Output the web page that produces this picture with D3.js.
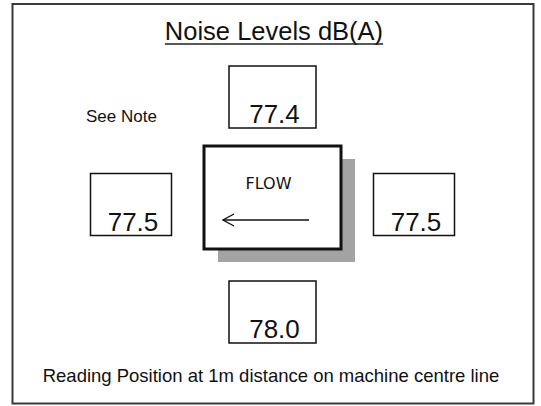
<!DOCTYPE html>
<html>
<head>
<meta charset="utf-8">
<script src="https://cdn.jsdelivr.net/npm/d3@7"></script>
<style>
  html, body { margin: 0; padding: 0; background: #fff; }
  svg { display: block; }
</style>
</head>
<body>
<svg id="chart" width="541" height="406"></svg>
<script>
var titleText = 'Noise Levels dB(A)';
var noteText = 'See Note';
var footText = 'Reading Position at 1m distance on machine centre line';
var flowLabel = 'FLOW';

// reading positions round the machine and the level read at each
var positions = ['top', 'left', 'right', 'bottom'];
var columns = ['centre', 'left', 'right', 'centre'];
var rows = ['top', 'middle', 'middle', 'bottom'];
var levels = [77.4, 77.5, 77.5, 78.0];

var font = '"Liberation Sans", Arial, sans-serif';

var svg = d3.select('#chart');

var x = d3.scalePoint()
    .domain(['left', 'centre', 'right'])
    .range([131, 414]);
var y = d3.scalePoint()
    .domain(['top', 'middle', 'bottom'])
    .range([97, 312]);

// outer frame
svg.append('rect')
    .attr('x', 12.5)
    .attr('y', 4)
    .attr('width', 521)
    .attr('height', 399.5)
    .attr('fill', 'none')
    .attr('stroke', '#3a3a3a')
    .attr('stroke-width', 2);

// title with underline
var title = svg.append('text')
    .attr('x', 274)
    .attr('y', 40)
    .attr('text-anchor', 'middle')
    .style('font-family', font)
    .style('font-size', '25.5px')
    .style('fill', '#111')
    .text(titleText);

var tw = title.node().getComputedTextLength();
svg.append('line')
    .attr('x1', 274 - tw / 2)
    .attr('x2', 274 + tw / 2)
    .attr('y1', 44)
    .attr('y2', 44)
    .attr('stroke', '#222')
    .attr('stroke-width', 1.6);

svg.append('text')
    .attr('x', 86)
    .attr('y', 122)
    .style('font-family', font)
    .style('font-size', '17px')
    .style('fill', '#111')
    .text(noteText);

// machine block with shadow
var flow = {cx: x('centre'), cy: y('middle') - 7, w: 137, h: 103};
var fx = flow.cx - flow.w / 2;
var fy = flow.cy - flow.h / 2;

svg.append('rect')
    .attr('x', fx + 14)
    .attr('y', fy + 13)
    .attr('width', flow.w)
    .attr('height', flow.h)
    .attr('fill', '#a3a3a3');

svg.append('rect')
    .attr('x', fx)
    .attr('y', fy)
    .attr('width', flow.w)
    .attr('height', flow.h)
    .attr('fill', '#fff')
    .attr('stroke', '#111')
    .attr('stroke-width', 3);

svg.append('text')
    .attr('x', flow.cx - 4)
    .attr('y', fy + 43)
    .attr('text-anchor', 'middle')
    .style('font-family', '"DejaVu Sans", sans-serif')
    .style('font-size', '16px')
    .style('fill', '#111')
    .text(flowLabel);

var ay = fy + 74;
var ax1 = fx + 19;
var ax2 = fx + 105;
svg.append('line')
    .attr('x1', ax1)
    .attr('x2', ax2)
    .attr('y1', ay)
    .attr('y2', ay)
    .attr('stroke', '#111')
    .attr('stroke-width', 1.4);
svg.append('path')
    .attr('d', 'M' + (ax1 + 11) + ',' + (ay - 6) + 'L' + ax1 + ',' + ay + 'L' + (ax1 + 11) + ',' + (ay + 6))
    .attr('fill', 'none')
    .attr('stroke', '#111')
    .attr('stroke-width', 1.4);

// reading boxes
var boxes = svg.append('g')
    .selectAll('g')
    .data(positions.map(function(p, i) {
      return {pos: p, col: columns[i], row: rows[i], value: levels[i]};
    }))
    .join('g')
      .attr('transform', function(d) {
        var w = d.row === 'middle' ? 81 : 87;
        return 'translate(' + (x(d.col) - w / 2) + ',' + (y(d.row) - 31) + ')';
      });

boxes.append('rect')
    .attr('width', function(d) { return d.row === 'middle' ? 81 : 87; })
    .attr('height', 62)
    .attr('fill', '#fff')
    .attr('stroke', '#111')
    .attr('stroke-width', 1.5);

boxes.append('text')
    .attr('x', function(d) { return (d.row === 'middle' ? 81 : 87) / 2 + 2; })
    .attr('y', 57)
    .attr('text-anchor', 'middle')
    .style('font-family', font)
    .style('font-size', '26px')
    .style('fill', '#111')
    .text(function(d) { return d3.format('.1f')(d.value); });

svg.append('text')
    .attr('x', 271)
    .attr('y', 382)
    .attr('text-anchor', 'middle')
    .style('font-family', font)
    .style('font-size', '18.5px')
    .style('fill', '#111')
    .text(footText);
</script>
</body>
</html>
